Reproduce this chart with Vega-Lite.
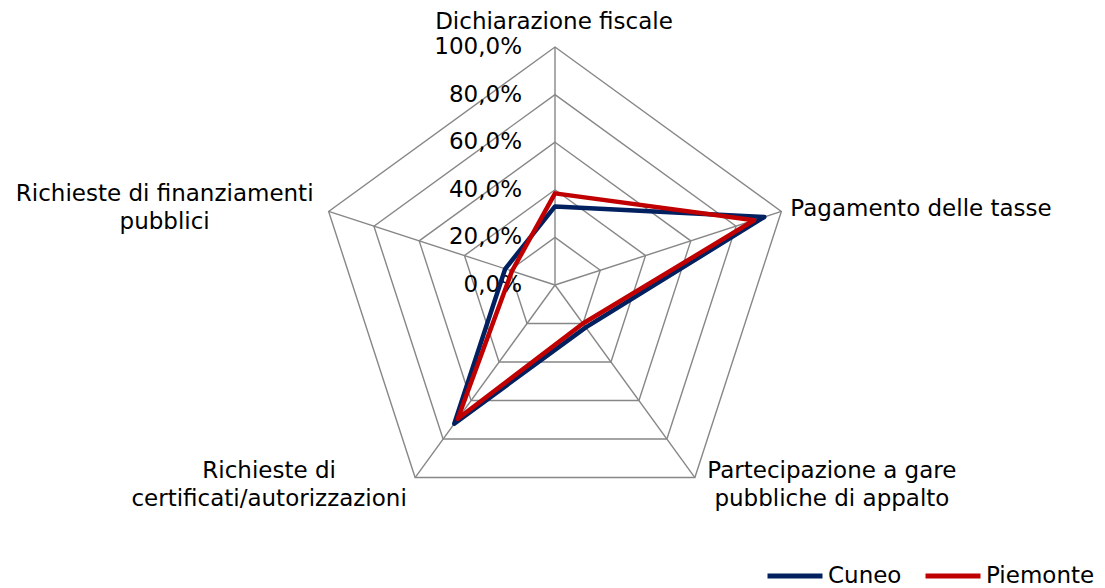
{
  "$schema": "https://vega.github.io/schema/vega-lite/v6.json",
  "width": 476,
  "height": 476,
  "autosize": {"type": "none"},
  "padding": {"left": 317, "top": 47, "right": 312, "bottom": 65},
  "background": "white",
  "config": {
    "view": {"stroke": null},
    "font": "DejaVu Sans",
    "locale": {"number": {"decimal": ",", "thousands": ".", "grouping": [3], "currency": ["€", ""]}},
    "legend": {
      "orient": "none",
      "direction": "horizontal",
      "legendX": 448,
      "legendY": 499,
      "title": null,
      "symbolType": "stroke",
      "symbolSize": 3025,
      "symbolStrokeWidth": 5,
      "labelFontSize": 23,
      "labelFont": "DejaVu Sans",
      "labelColor": "black",
      "labelOffset": 3,
      "columnPadding": 13,
      "labelLimit": 300
    }
  },
  "datasets": {
    "categorie": [
      {"categoria": "Dichiarazione fiscale", "etichetta": "Dichiarazione fiscale", "livelli": [0.2, 0.4, 0.6, 0.8, 1]},
      {"categoria": "Pagamento delle tasse", "etichetta": "Pagamento delle tasse", "livelli": [0.2, 0.4, 0.6, 0.8, 1]},
      {"categoria": "Partecipazione a gare pubbliche di appalto", "etichetta": "Partecipazione a gare\npubbliche di appalto", "livelli": [0.2, 0.4, 0.6, 0.8, 1]},
      {"categoria": "Richieste di certificati/autorizzazioni", "etichetta": "Richieste di\ncertificati/autorizzazioni", "livelli": [0.2, 0.4, 0.6, 0.8, 1]},
      {"categoria": "Richieste di finanziamenti pubblici", "etichetta": "Richieste di finanziamenti\npubblici", "livelli": [0.2, 0.4, 0.6, 0.8, 1]}
    ],
    "scala": [
      {"livello": 0}, {"livello": 0.2}, {"livello": 0.4}, {"livello": 0.6}, {"livello": 0.8}, {"livello": 1}
    ],
    "valori": [
      {"serie": "Cuneo", "categoria": "Dichiarazione fiscale", "valore": 0.33},
      {"serie": "Cuneo", "categoria": "Pagamento delle tasse", "valore": 0.925},
      {"serie": "Cuneo", "categoria": "Partecipazione a gare pubbliche di appalto", "valore": 0.22},
      {"serie": "Cuneo", "categoria": "Richieste di certificati/autorizzazioni", "valore": 0.72},
      {"serie": "Cuneo", "categoria": "Richieste di finanziamenti pubblici", "valore": 0.22},
      {"serie": "Piemonte", "categoria": "Dichiarazione fiscale", "valore": 0.385},
      {"serie": "Piemonte", "categoria": "Pagamento delle tasse", "valore": 0.88},
      {"serie": "Piemonte", "categoria": "Partecipazione a gare pubbliche di appalto", "valore": 0.2},
      {"serie": "Piemonte", "categoria": "Richieste di certificati/autorizzazioni", "valore": 0.695},
      {"serie": "Piemonte", "categoria": "Richieste di finanziamenti pubblici", "valore": 0.19}
    ]
  },
  "layer": [
    {
      "data": {"name": "categorie"},
      "transform": [
        {"flatten": ["livelli"], "as": ["livello"]},
        {"calculate": "indexof(['Dichiarazione fiscale','Pagamento delle tasse','Partecipazione a gare pubbliche di appalto','Richieste di certificati/autorizzazioni','Richieste di finanziamenti pubblici'], datum.categoria)", "as": "idx"},
        {"calculate": "PI/2 - datum.idx*2*PI/5", "as": "ang"},
        {"calculate": "datum.livello*cos(datum.ang)", "as": "px"},
        {"calculate": "datum.livello*sin(datum.ang)", "as": "py"}
      ],
      "mark": {"type": "line", "interpolate": "linear-closed", "stroke": "#878787", "strokeWidth": 1.4},
      "encoding": {
        "x": {"field": "px", "type": "quantitative", "scale": {"domain": [-1, 1], "nice": false, "zero": false}, "axis": null},
        "y": {"field": "py", "type": "quantitative", "scale": {"domain": [-1, 1], "nice": false, "zero": false}, "axis": null},
        "detail": {"field": "livello"},
        "order": {"field": "idx"}
      }
    },
    {
      "data": {"name": "categorie"},
      "transform": [
        {"calculate": "indexof(['Dichiarazione fiscale','Pagamento delle tasse','Partecipazione a gare pubbliche di appalto','Richieste di certificati/autorizzazioni','Richieste di finanziamenti pubblici'], datum.categoria)", "as": "idx"},
        {"calculate": "PI/2 - datum.idx*2*PI/5", "as": "ang"},
        {"calculate": "cos(datum.ang)", "as": "px"},
        {"calculate": "sin(datum.ang)", "as": "py"}
      ],
      "mark": {"type": "rule", "stroke": "#878787", "strokeWidth": 1.4},
      "encoding": {
        "x": {"field": "px", "type": "quantitative"},
        "y": {"field": "py", "type": "quantitative"},
        "x2": {"datum": 0},
        "y2": {"datum": 0}
      }
    },
    {
      "data": {"name": "scala"},
      "mark": {"type": "text", "align": "right", "baseline": "middle", "dx": -33, "fontSize": 23, "color": "black", "font": "DejaVu Sans"},
      "encoding": {
        "x": {"datum": 0, "type": "quantitative"},
        "y": {"field": "livello", "type": "quantitative"},
        "text": {"field": "livello", "type": "quantitative", "format": ".1%"}
      }
    },
    {
      "data": {"name": "valori"},
      "transform": [
        {"calculate": "indexof(['Dichiarazione fiscale','Pagamento delle tasse','Partecipazione a gare pubbliche di appalto','Richieste di certificati/autorizzazioni','Richieste di finanziamenti pubblici'], datum.categoria)", "as": "idx"},
        {"calculate": "PI/2 - datum.idx*2*PI/5", "as": "ang"},
        {"calculate": "datum.valore*cos(datum.ang)", "as": "px"},
        {"calculate": "datum.valore*sin(datum.ang)", "as": "py"}
      ],
      "mark": {"type": "line", "interpolate": "linear-closed", "strokeWidth": 4.5, "strokeJoin": "round"},
      "encoding": {
        "x": {"field": "px", "type": "quantitative"},
        "y": {"field": "py", "type": "quantitative"},
        "color": {"field": "serie", "type": "nominal", "scale": {"domain": ["Cuneo", "Piemonte"], "range": ["#002060", "#C00000"]}},
        "order": {"field": "idx"}
      }
    },
    {
      "data": {"name": "categorie"},
      "transform": [
        {"filter": "datum.categoria == 'Dichiarazione fiscale'"},
        {"calculate": "PI/2", "as": "ang"},
        {"calculate": "cos(datum.ang)", "as": "px"},
        {"calculate": "sin(datum.ang)", "as": "py"}
      ],
      "mark": {"type": "text", "align": "center", "baseline": "middle", "dx": -1, "dy": -25, "fontSize": 23, "color": "black", "font": "DejaVu Sans", "lineBreak": "\n", "lineHeight": 28},
      "encoding": {
        "x": {"field": "px", "type": "quantitative"},
        "y": {"field": "py", "type": "quantitative"},
        "text": {"field": "etichetta"}
      }
    },
    {
      "data": {"name": "categorie"},
      "transform": [
        {"filter": "datum.categoria == 'Pagamento delle tasse'"},
        {"calculate": "PI/2 - 2*PI/5", "as": "ang"},
        {"calculate": "cos(datum.ang)", "as": "px"},
        {"calculate": "sin(datum.ang)", "as": "py"}
      ],
      "mark": {"type": "text", "align": "left", "baseline": "middle", "dx": 9, "dy": -2, "fontSize": 23, "color": "black", "font": "DejaVu Sans", "lineBreak": "\n", "lineHeight": 28},
      "encoding": {
        "x": {"field": "px", "type": "quantitative"},
        "y": {"field": "py", "type": "quantitative"},
        "text": {"field": "etichetta"}
      }
    },
    {
      "data": {"name": "categorie"},
      "transform": [
        {"filter": "datum.categoria == 'Partecipazione a gare pubbliche di appalto'"},
        {"calculate": "PI/2 - 4*PI/5", "as": "ang"},
        {"calculate": "cos(datum.ang)", "as": "px"},
        {"calculate": "sin(datum.ang)", "as": "py"}
      ],
      "mark": {"type": "text", "align": "center", "baseline": "middle", "dx": 137, "dy": -7, "fontSize": 23, "color": "black", "font": "DejaVu Sans", "lineBreak": "\n", "lineHeight": 28},
      "encoding": {
        "x": {"field": "px", "type": "quantitative"},
        "y": {"field": "py", "type": "quantitative"},
        "text": {"field": "etichetta"}
      }
    },
    {
      "data": {"name": "categorie"},
      "transform": [
        {"filter": "datum.categoria == 'Richieste di certificati/autorizzazioni'"},
        {"calculate": "PI/2 - 6*PI/5", "as": "ang"},
        {"calculate": "cos(datum.ang)", "as": "px"},
        {"calculate": "sin(datum.ang)", "as": "py"}
      ],
      "mark": {"type": "text", "align": "center", "baseline": "middle", "dx": -146, "dy": -7, "fontSize": 23, "color": "black", "font": "DejaVu Sans", "lineBreak": "\n", "lineHeight": 28},
      "encoding": {
        "x": {"field": "px", "type": "quantitative"},
        "y": {"field": "py", "type": "quantitative"},
        "text": {"field": "etichetta"}
      }
    },
    {
      "data": {"name": "categorie"},
      "transform": [
        {"filter": "datum.categoria == 'Richieste di finanziamenti pubblici'"},
        {"calculate": "PI/2 - 8*PI/5", "as": "ang"},
        {"calculate": "cos(datum.ang)", "as": "px"},
        {"calculate": "sin(datum.ang)", "as": "py"}
      ],
      "mark": {"type": "text", "align": "center", "baseline": "middle", "dx": -164, "dy": -17, "fontSize": 23, "color": "black", "font": "DejaVu Sans", "lineBreak": "\n", "lineHeight": 28},
      "encoding": {
        "x": {"field": "px", "type": "quantitative"},
        "y": {"field": "py", "type": "quantitative"},
        "text": {"field": "etichetta"}
      }
    }
  ]
}
